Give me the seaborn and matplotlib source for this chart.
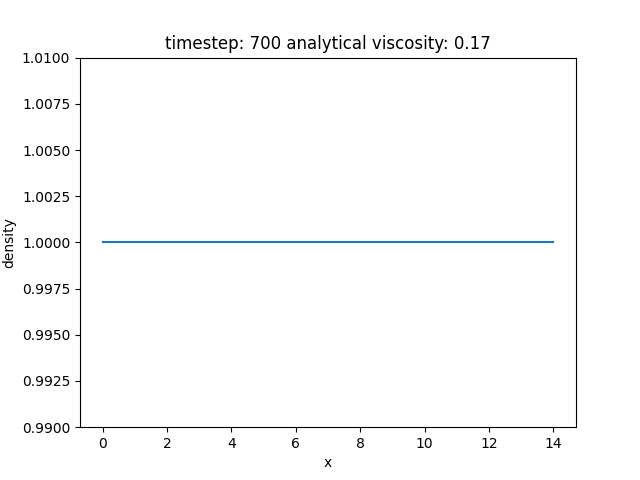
import matplotlib
matplotlib.use('Agg')
import matplotlib.pyplot as plt
import seaborn as sns
import pandas as pd

# Simulation snapshot values
timestep = 700
viscosity = 0.17
x_values = [0, 1, 2, 3, 4, 5, 6, 7, 8, 9, 10, 11, 12, 13, 14]
density_values = [1.0, 1.0, 1.0, 1.0, 1.0, 1.0, 1.0, 1.0,
                  1.0, 1.0, 1.0, 1.0, 1.0, 1.0, 1.0]

df = pd.DataFrame({'x': x_values, 'density': density_values})

fig, ax = plt.subplots(figsize=(6.4, 4.8), dpi=100)
sns.lineplot(data=df, x='x', y='density', ax=ax, color='#1f77b4')

ax.set_ylim(0.99, 1.01)
ax.set_xlabel('x')
ax.set_ylabel('density')
ax.set_title(f'timestep: {timestep} analytical viscosity: {viscosity}')
ax.ticklabel_format(axis='y', useOffset=False)

fig.savefig('out.png')
